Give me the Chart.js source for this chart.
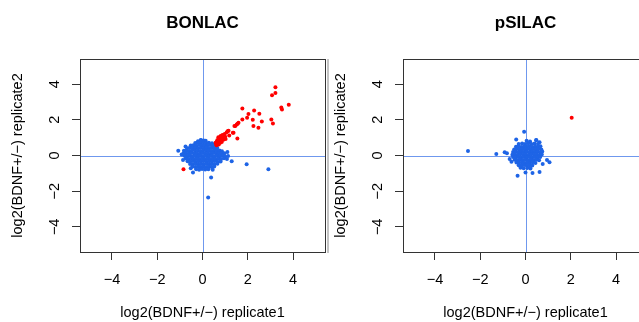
<!DOCTYPE html>
<html lang="en">
<head>
    <meta charset="UTF-8">
    <title>BONLAC vs pSILAC</title>
    <script src="https://cdn.jsdelivr.net/npm/chart.js"></script>
    <style>
        html, body {
            margin: 0;
            padding: 0;
            background: #fff;
            overflow: hidden;
            width: 639px;
            height: 322px;
        }
        .panel {
            position: absolute;
            top: 0;
        }
        #leftPanel { left: 0; }
        #rightPanel { left: 323px; }
    </style>
</head>
<body>

    <div class="panel" id="leftPanel"><canvas id="bonlacChart" width="330" height="322"></canvas></div>
    <div class="panel" id="rightPanel"><canvas id="psilacChart" width="330" height="322"></canvas></div>

    <script>
        // axis setup (same for both panels)
        const axisLimits = [-5.41, 5.41];
        const tickValues = [-4, -2, 0, 2, 4];
        const xTitle = 'log2(BDNF+/\u2212) replicate1';
        const yTitle = 'log2(BDNF+/\u2212) replicate2';

        // BONLAC - proteins above threshold (red)
        const bonlacRed = [
            [3.22, 3.83], [3.22, 3.51], [3.07, 3.38], [3.81, 2.84], [3.48, 2.69], [3.51, 2.58],
            [1.76, 2.64], [2.28, 2.52], [2.51, 2.34], [2.03, 2.32], [1.97, 2.11], [1.76, 2.02],
            [2.22, 2.00], [2.62, 1.91], [3.04, 2.02], [3.11, 1.80], [2.25, 1.66], [2.47, 1.55],
            [1.59, 1.83], [1.51, 1.74], [1.45, 1.66], [1.41, 1.65], [1.55, 1.78], [1.34, 1.27],
            [1.15, 1.39], [1.07, 1.30], [1.54, 0.96], [1.37, 1.27], [1.12, 1.37], [-0.84, -0.77],
            [0.95, 1.10], [0.88, 1.05], [0.80, 1.00], [0.75, 0.95], [0.70, 0.90], [0.65, 0.85],
            [0.62, 0.75], [0.68, 0.70], [0.75, 0.80], [0.82, 0.85], [0.90, 0.95], [1.00, 1.05],
            [0.85, 0.75], [0.72, 0.62], [0.62, 0.58], [0.66, 0.66], [0.78, 0.72], [0.92, 0.88],
            [1.02, 0.92], [0.70, 1.02], [0.60, 0.65], [0.80, 1.10], [0.98, 1.20], [0.88, 1.15],
            [0.58, 0.72], [0.96, 1.05], [1.18, 1.12]
        ];

        // BONLAC - remaining proteins (blue)
        const bonlacBlue = [
            [-0.08, 0.86], [0.05, 0.84], [0.14, 0.82], [-0.20, 0.80],
            [-0.32, 0.70], [-0.20, 0.73], [-0.08, 0.71], [0.04, 0.74], [0.16, 0.70], [0.28, 0.72], [0.42, 0.68],
            [-0.52, 0.56], [-0.40, 0.58], [-0.27, 0.55], [-0.15, 0.59], [-0.03, 0.56], [0.09, 0.58],
            [0.21, 0.55], [0.33, 0.59], [0.45, 0.56], [0.56, 0.54],
            [-0.68, 0.41], [-0.56, 0.43], [-0.44, 0.40], [-0.31, 0.44], [-0.19, 0.41], [-0.07, 0.43],
            [0.06, 0.40], [0.18, 0.44], [0.30, 0.41], [0.42, 0.43], [0.54, 0.40], [0.65, 0.44],
            [-0.82, 0.26], [-0.70, 0.28], [-0.58, 0.25], [-0.46, 0.29], [-0.33, 0.26], [-0.21, 0.28],
            [-0.09, 0.25], [0.03, 0.29], [0.15, 0.26], [0.27, 0.28], [0.39, 0.25], [0.51, 0.29],
            [0.63, 0.26], [0.75, 0.28], [0.86, 0.24],
            [-0.84, 0.11], [-0.72, 0.13], [-0.60, 0.10], [-0.48, 0.14], [-0.36, 0.11], [-0.24, 0.13],
            [-0.12, 0.10], [0.00, 0.14], [0.12, 0.11], [0.24, 0.13], [0.36, 0.10], [0.48, 0.14],
            [0.60, 0.11], [0.72, 0.13], [0.84, 0.10], [0.97, 0.12],
            [-0.80, -0.02], [-0.68, -0.04], [-0.56, -0.01], [-0.44, -0.05], [-0.32, -0.02], [-0.20, -0.04],
            [-0.08, -0.01], [0.04, -0.05], [0.16, -0.02], [0.28, -0.04], [0.40, -0.01], [0.52, -0.05],
            [0.64, -0.02], [0.76, -0.04], [0.88, -0.01], [1.00, -0.05], [1.13, -0.03],
            [-0.74, -0.17], [-0.62, -0.19], [-0.50, -0.16], [-0.38, -0.20], [-0.26, -0.17], [-0.14, -0.19],
            [-0.02, -0.16], [0.10, -0.20], [0.22, -0.17], [0.34, -0.19], [0.46, -0.16], [0.58, -0.20],
            [0.70, -0.17], [0.82, -0.19], [0.95, -0.16], [1.08, -0.20],
            [-0.66, -0.32], [-0.54, -0.34], [-0.42, -0.31], [-0.30, -0.35], [-0.18, -0.32], [-0.06, -0.34],
            [0.06, -0.31], [0.18, -0.35], [0.30, -0.32], [0.42, -0.34], [0.54, -0.31], [0.66, -0.35], [0.80, -0.33],
            [-0.55, -0.47], [-0.43, -0.49], [-0.31, -0.46], [-0.19, -0.50], [-0.07, -0.47], [0.05, -0.49],
            [0.17, -0.46], [0.29, -0.50], [0.41, -0.47], [0.53, -0.49], [0.66, -0.46],
            [-0.44, -0.62], [-0.32, -0.64], [-0.20, -0.61], [-0.08, -0.65], [0.04, -0.62], [0.16, -0.64],
            [0.28, -0.61], [0.40, -0.65], [0.52, -0.62],
            [-0.28, -0.77], [-0.15, -0.80], [-0.02, -0.76], [0.12, -0.79], [0.26, -0.77],
            [-1.07, 0.27], [-0.86, -0.25], [-0.42, -0.96], [0.38, -1.24], [1.29, -0.32], [1.95, -0.49],
            [2.91, -0.77], [0.25, -2.36], [-0.07, 0.87], [-0.75, 0.50], [1.10, 0.20], [-0.52, -0.72],
            [0.45, -0.80], [-0.92, 0.05]
        ];

        // pSILAC - proteins above threshold (red)
        const psilacRed = [
            [2.04, 2.11]
        ];

        // pSILAC - remaining proteins (blue)
        const psilacBlue = [
            [0.05, 0.82], [0.20, 0.78], [0.48, 0.86], [0.62, 0.74],
            [-0.30, 0.64], [-0.15, 0.67], [-0.02, 0.65], [0.12, 0.68], [0.26, 0.64], [0.40, 0.67], [0.55, 0.65],
            [-0.42, 0.49], [-0.30, 0.52], [-0.18, 0.48], [-0.06, 0.51], [0.06, 0.49], [0.18, 0.52],
            [0.30, 0.48], [0.42, 0.51], [0.54, 0.49], [0.66, 0.52],
            [-0.50, 0.34], [-0.38, 0.36], [-0.26, 0.33], [-0.14, 0.37], [-0.02, 0.34], [0.10, 0.36],
            [0.22, 0.33], [0.34, 0.37], [0.46, 0.34], [0.58, 0.36], [0.70, 0.33],
            [-0.55, 0.19], [-0.43, 0.21], [-0.31, 0.18], [-0.19, 0.22], [-0.07, 0.19], [0.05, 0.21],
            [0.17, 0.18], [0.29, 0.22], [0.41, 0.19], [0.53, 0.21], [0.65, 0.18], [0.74, 0.22],
            [-0.58, 0.04], [-0.46, 0.06], [-0.34, 0.03], [-0.22, 0.07], [-0.10, 0.04], [0.02, 0.06],
            [0.14, 0.03], [0.26, 0.07], [0.38, 0.04], [0.50, 0.06], [0.62, 0.03], [0.72, 0.06],
            [-0.55, -0.09], [-0.43, -0.11], [-0.31, -0.08], [-0.19, -0.12], [-0.07, -0.09], [0.05, -0.11],
            [0.17, -0.08], [0.29, -0.12], [0.41, -0.09], [0.53, -0.11], [0.65, -0.08],
            [-0.48, -0.24], [-0.36, -0.26], [-0.24, -0.23], [-0.12, -0.27], [0.00, -0.24], [0.12, -0.26],
            [0.24, -0.23], [0.36, -0.27], [0.48, -0.24], [0.60, -0.26],
            [-0.40, -0.39], [-0.28, -0.41], [-0.16, -0.38], [-0.04, -0.42], [0.08, -0.39], [0.20, -0.41],
            [0.32, -0.38], [0.44, -0.42],
            [-0.30, -0.54], [-0.18, -0.56], [-0.06, -0.53], [0.06, -0.57], [0.18, -0.54], [0.30, -0.56],
            [-0.22, -0.69], [-0.08, -0.72], [0.08, -0.70], [0.22, -0.73],
            [-2.54, 0.25], [-1.29, 0.08], [-0.92, 0.18], [-0.82, 0.12], [-0.06, 1.33], [-0.41, 0.90],
            [-0.35, -1.13], [0.00, -0.96], [0.31, -0.98], [0.62, -0.92], [1.06, -0.38], [0.95, -0.25],
            [0.76, -0.48], [0.47, 0.87], [-0.70, -0.20], [-0.62, -0.35]
        ];

        const FONT = '"Liberation Sans", Arial, sans-serif';
        const LABEL_SIZE = 14.5;
        Chart.defaults.font.family = FONT;
        Chart.defaults.color = '#000';

        const minusLabel = v => (v < 0 ? '\u2212' + Math.abs(v) : String(v));
        const toPoints = arr => arr.map(p => ({ x: p[0], y: p[1] }));

        // frame around the plot region, the two zero lines, and the
        // y tick labels written bottom-to-top like R's default axis
        const framePlugin = {
            id: 'frame',
            beforeDatasetsDraw(chart) {
                const { ctx, chartArea: a, scales } = chart;
                const x0 = scales.x.getPixelForValue(0);
                const y0 = scales.y.getPixelForValue(0);
                ctx.save();
                ctx.strokeStyle = '#6f98ee';
                ctx.lineWidth = 1;
                ctx.beginPath();
                ctx.moveTo(Math.round(x0) + 0.5, a.top);
                ctx.lineTo(Math.round(x0) + 0.5, a.bottom);
                ctx.moveTo(a.left, Math.round(y0) + 0.5);
                ctx.lineTo(a.right, Math.round(y0) + 0.5);
                ctx.stroke();
                ctx.restore();
            },
            afterDatasetsDraw(chart, args, opts) {
                const { ctx, chartArea: a } = chart;
                ctx.save();
                ctx.strokeStyle = '#333';
                ctx.lineWidth = 1;
                ctx.strokeRect(Math.round(a.left) + 0.5, Math.round(a.top) + 0.5,
                    Math.round(a.right - a.left), Math.round(a.bottom - a.top));
                if (opts.edge) {
                    // faint second border on the right side, as in the source image
                    ctx.strokeStyle = '#c4c4c4';
                    ctx.lineWidth = 2;
                    ctx.beginPath();
                    ctx.moveTo(a.right + 3, a.top);
                    ctx.lineTo(a.right + 3, a.bottom + 1);
                    ctx.stroke();
                }
                ctx.restore();
            },
            afterDraw(chart) {
                const { ctx, scales } = chart;
                const ys = scales.y;
                ctx.save();
                ctx.fillStyle = '#000';
                ctx.font = LABEL_SIZE + 'px ' + FONT;
                ctx.textAlign = 'center';
                ctx.textBaseline = 'middle';
                tickValues.forEach(v => {
                    ctx.save();
                    ctx.translate(ys.right - 25, ys.getPixelForValue(v));
                    ctx.rotate(-Math.PI / 2);
                    ctx.fillText(minusLabel(v), 0, 0);
                    ctx.restore();
                });
                ctx.restore();
            }
        };

        function makePanel(id, title, blue, red, edge) {
            const ctx = document.getElementById(id).getContext('2d');
            return new Chart(ctx, {
                type: 'scatter',
                data: {
                    datasets: [
                        { data: toPoints(red), backgroundColor: '#ff0000', pointRadius: 2, borderWidth: 0 },
                        { data: toPoints(blue), backgroundColor: '#1e64e6', pointRadius: 2, borderWidth: 0 }
                    ]
                },
                options: {
                    responsive: false,
                    animation: false,
                    layout: { padding: { left: 0, right: 5, top: 0, bottom: 0 } },
                    plugins: {
                        legend: { display: false },
                        tooltip: { enabled: false },
                        title: {
                            display: true,
                            text: title,
                            fullSize: false,
                            color: '#000',
                            font: { size: 17, weight: 'bold' },
                            padding: { top: 13, bottom: 25.6 }
                        },
                        frame: { edge: edge }
                    },
                    scales: {
                        x: {
                            type: 'linear',
                            min: axisLimits[0],
                            max: axisLimits[1],
                            afterBuildTicks: s => { s.ticks = tickValues.map(v => ({ value: v })); },
                            afterFit: s => { s.height = 70; },
                            border: { display: false },
                            grid: { drawOnChartArea: false, drawTicks: true, tickLength: 8, color: '#333' },
                            ticks: { padding: 11, font: { size: LABEL_SIZE }, color: '#000', callback: minusLabel, maxRotation: 0 },
                            title: { display: true, text: xTitle, font: { size: LABEL_SIZE }, color: '#000', padding: { top: 0, bottom: 0 } }
                        },
                        y: {
                            type: 'linear',
                            min: axisLimits[0],
                            max: axisLimits[1],
                            afterBuildTicks: s => { s.ticks = tickValues.map(v => ({ value: v })); },
                            afterFit: s => { s.width = 80; },
                            border: { display: false },
                            grid: { drawOnChartArea: false, drawTicks: true, tickLength: 8, color: '#333' },
                            ticks: { display: false },
                            title: { display: true, text: yTitle, font: { size: LABEL_SIZE }, color: '#000', padding: { top: 9.3, bottom: 0 } }
                        }
                    }
                },
                plugins: [framePlugin]
            });
        }

        makePanel('bonlacChart', 'BONLAC', bonlacBlue, bonlacRed, true);
        makePanel('psilacChart', 'pSILAC', psilacBlue, psilacRed, false);
    </script>

</body>
</html>
